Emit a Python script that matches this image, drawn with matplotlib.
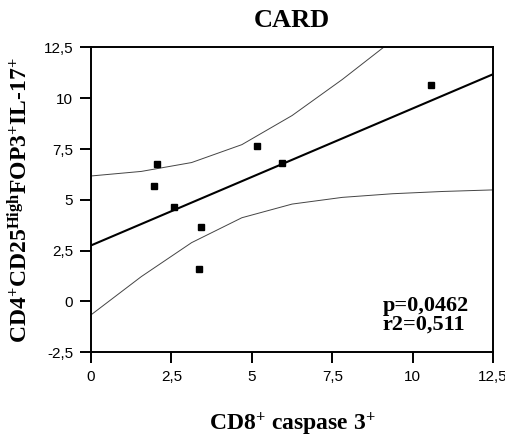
import matplotlib
matplotlib.use("Agg")
import matplotlib.pyplot as plt
import numpy as np

plt.rcParams["mathtext.fontset"] = "custom"
plt.rcParams["mathtext.rm"] = "Liberation Serif:bold"
plt.rcParams["mathtext.it"] = "Liberation Serif:bold"
plt.rcParams["mathtext.bf"] = "Liberation Serif:bold"

# CD8+ caspase 3+ vs CD4+CD25High FOXP3+ IL-17+ (CARD group)
caspase = [2.05, 1.96, 2.58, 3.42, 3.36, 5.15, 5.93, 10.56]
il17 = [6.79, 5.66, 4.63, 3.65, 1.58, 7.65, 6.83, 10.63]

# reported regression line
fit_intercept = 2.76
fit_slope = 0.674

x_ticks = [0, 2.5, 5, 7.5, 10, 12.5]
x_labels = ["0", "2,5", "5", "7,5", "10", "12,5"]
y_ticks = [-2.5, 0, 2.5, 5, 7.5, 10, 12.5]
y_labels = ["-2,5", "0", "2,5", "5", "7,5", "10", "12,5"]

stats_text = "p=0,0462\nr2=0,511"
t_crit = 2.447  # t(0.975, df=6)

x = np.array(caspase)
y = np.array(il17)
n = len(x)
ols_slope, ols_intercept = np.polyfit(x, y, 1)
resid = y - (ols_slope * x + ols_intercept)
s = np.sqrt(np.sum(resid ** 2) / (n - 2))
sxx = np.sum((x - x.mean()) ** 2)

# fit line and 95% confidence band of the mean, evaluated on a coarse grid
grid = np.linspace(0, 12.5, 9)
fit = fit_slope * grid + fit_intercept
half = t_crit * s * np.sqrt(1 / n + (grid - x.mean()) ** 2 / sxx)

fig = plt.figure(figsize=(5.06, 4.41), dpi=100)
ax = fig.add_axes([0.18, 0.2012, 0.7945, 0.6911])

ax.plot(grid, fit, color="black", linewidth=1.5)
ax.plot(grid, fit + half, color="#444444", linewidth=0.7)
ax.plot(grid, fit - half, color="#444444", linewidth=0.7)
ax.plot(x, y, linestyle="none", marker="s", markersize=5, color="black")

ax.set_xlim(0, 12.5)
ax.set_ylim(-2.5, 12.5)
ax.set_xticks(x_ticks)
ax.set_xticklabels(x_labels)
ax.set_yticks(y_ticks)
ax.set_yticklabels(y_labels)
ax.tick_params(direction="out", length=8, width=1.4, labelsize=11, pad=5)
for label in ax.get_xticklabels() + ax.get_yticklabels():
    label.set_fontfamily("Liberation Sans")
for spine in ax.spines.values():
    spine.set_linewidth(1.4)

ax.set_title("CARD", fontsize=19, fontweight="bold", family="Liberation Serif", pad=15)
ax.set_xlabel(r"CD8$^{+}$ caspase 3$^{+}$", fontsize=17, fontweight="bold",
              family="Liberation Serif", labelpad=19)
ax.set_ylabel(r"CD4$^{+}$CD25$^{High}$FOP3$^{+}$IL-17$^{+}$", fontsize=17,
              fontweight="bold", family="Liberation Serif", labelpad=8)

ax.text(0.726, 0.073, stats_text, transform=ax.transAxes, ha="left", va="baseline",
        fontsize=16, fontweight="bold", family="Liberation Serif", linespacing=0.95)

fig.savefig("out.png", dpi=100)
